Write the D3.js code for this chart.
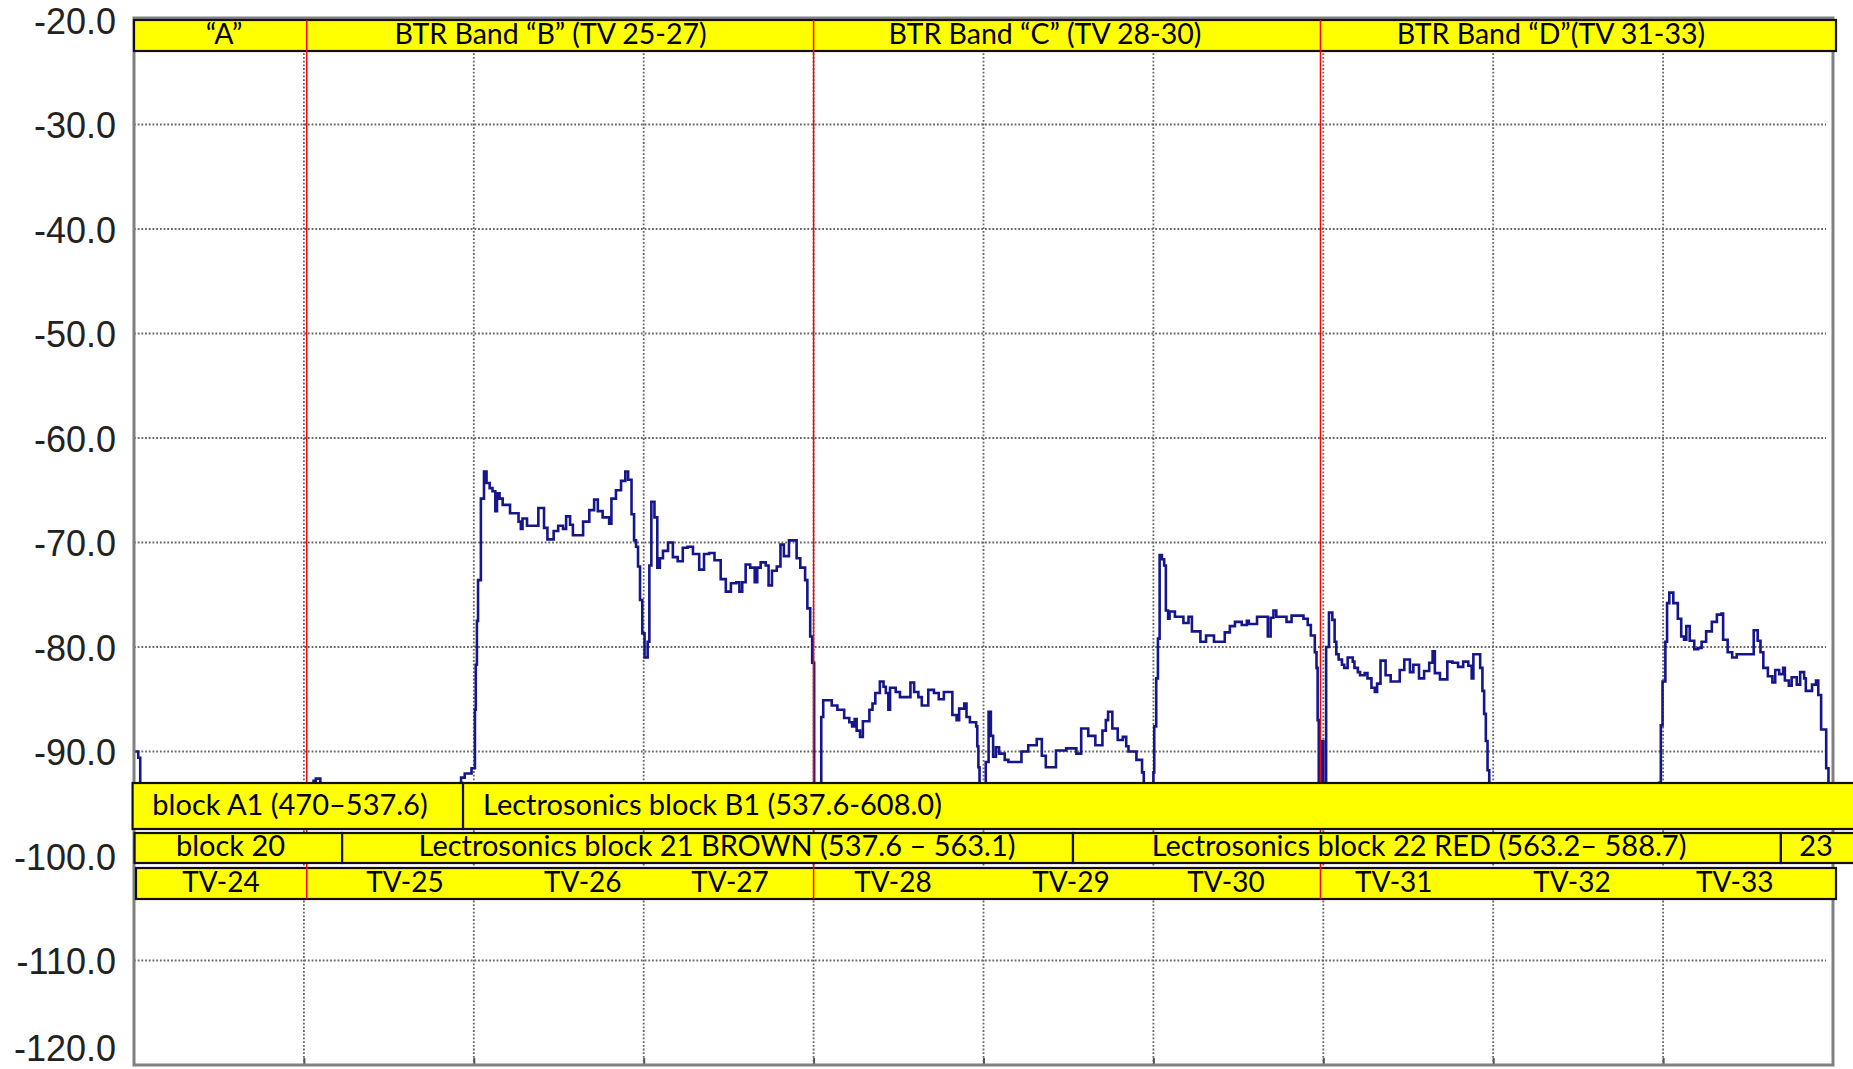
<!DOCTYPE html>
<html><head><meta charset="utf-8">
<script src="https://cdn.jsdelivr.net/npm/d3@7"></script>
<style>
html,body{margin:0;padding:0;background:#fff;overflow:hidden}
svg{display:block}
</style></head><body>
<svg id="chart" width="1853" height="1069"></svg>
<script>
// ---------------- data ----------------
const levelTicks = [-20,-30,-40,-50,-60,-70,-80,-90,-100,-110,-120];
const levelTickLabels = ["-20.0","-30.0","-40.0","-50.0","-60.0","-70.0","-80.0","-90.0","-100.0","-110.0","-120.0"];
const channelEdgesMHz = [536,542,548,554,560,566,572,578,584];
const bandEdgesMHz = [536.1,554.0,571.9];

const headerLabels = ["\u201CA\u201D","BTR Band \u201CB\u201D (TV 25-27)","BTR Band \u201CC\u201D (TV 28-30)","BTR Band \u201CD\u201D(TV 31-33)"];
const headerCentersMHz = [533.18,544.71,562.17,580.04];

const row1Labels = ["block A1 (470\u2013537.6)","Lectrosonics block B1 (537.6-608.0)"];
const row1StartMHz = [529.95,541.62];
const row1EndMHz = [541.62,591.5];
const row1CentersMHz = [535.51,550.43];

const row2Labels = ["block 20","Lectrosonics block 21 BROWN (537.6 \u2013 563.1)","Lectrosonics block 22 RED (563.2\u2013 588.7)","23"];
const row2StartMHz = [530.02,537.35,563.16,588.16];
const row2EndMHz = [537.35,563.16,588.16,591.5];
const row2CentersMHz = [533.41,550.59,575.38,589.40];

const tvLabels = ["TV-24","TV-25","TV-26","TV-27","TV-28","TV-29","TV-30","TV-31","TV-32","TV-33"];
const tvCentersMHz = [533.07,539.57,545.85,551.05,556.80,563.09,568.56,574.49,580.78,586.53];

const traceMHz = [
530.00,530.15,530.22,536.34,536.42,536.58,541.55,541.68,541.92,542.04,542.07,542.11,542.15,542.25,542.36,542.45,542.56,542.66,542.76,542.82,
542.91,543.02,543.28,543.58,543.66,543.72,543.88,544.28,544.48,544.60,544.82,544.98,545.15,545.26,545.40,545.50,545.86,546.08,546.25,546.38,
546.55,546.78,546.86,547.02,547.20,547.35,547.45,547.57,547.66,547.73,547.80,547.87,547.95,548.03,548.14,548.20,548.27,548.38,548.48,548.57,
548.68,548.86,549.03,549.20,549.38,549.55,549.74,549.96,550.13,550.31,550.50,550.72,550.90,551.08,551.27,551.38,551.48,551.60,551.76,551.92,
552.01,552.13,552.31,552.41,552.53,552.70,552.83,552.95,553.13,553.40,553.53,553.70,553.78,553.88,553.95,554.02,554.27,554.34,554.64,554.84,
555.08,555.26,555.36,555.45,555.52,555.64,555.74,555.97,556.08,556.18,556.34,556.47,556.55,556.64,556.70,556.90,557.05,557.42,557.55,557.70,
557.82,558.05,558.25,558.42,558.60,558.90,559.05,559.14,559.32,559.40,559.52,559.74,559.78,559.82,559.86,560.08,560.18,560.26,560.34,560.44,
560.55,560.75,560.88,561.34,561.58,561.88,562.06,562.20,562.56,562.92,563.28,563.45,563.70,563.95,564.20,564.32,564.40,564.55,564.74,564.92,
565.04,565.12,565.40,565.60,565.66,566.00,566.03,566.10,566.16,566.22,566.30,566.38,566.44,566.52,566.57,566.76,567.06,567.24,567.36,567.66,
567.86,568.14,568.52,568.70,568.88,569.12,569.30,569.37,569.66,570.04,570.14,570.24,570.34,570.70,570.88,571.30,571.45,571.56,571.70,571.76,
571.80,571.84,571.96,572.00,572.10,572.20,572.32,572.40,572.46,572.54,572.66,572.74,572.86,573.04,573.10,573.22,573.30,573.46,573.56,573.70,
573.82,573.90,574.02,574.20,574.38,574.70,574.86,575.06,575.18,575.38,575.56,575.74,575.86,575.94,576.12,576.38,576.56,576.76,576.94,577.12,
577.24,577.30,577.54,577.62,577.68,577.74,577.80,577.86,583.86,583.92,583.98,584.08,584.14,584.22,584.36,584.52,584.64,584.74,584.82,584.94,
585.10,585.24,585.36,585.52,585.72,585.90,586.06,586.12,586.28,586.44,586.60,587.20,587.34,587.44,587.54,587.70,587.86,587.96,588.10,588.24,
588.30,588.44,588.54,588.72,588.84,588.98,589.04,589.26,589.40,589.48,589.58,589.76,589.84,590.00];
const traceDbm = [
-90.0,-90.6,-97.0,-92.8,-92.6,-97.0,-92.5,-92.1,-91.6,-86.0,-81.7,-77.5,-73.6,-65.8,-63.2,-64.3,-64.8,-65.1,-67.0,-65.3,
-65.8,-66.4,-67.2,-68.0,-68.7,-67.7,-68.4,-66.7,-68.6,-69.7,-68.9,-68.4,-68.7,-67.5,-68.3,-69.3,-68.0,-66.9,-65.9,-67.0,
-67.6,-68.2,-65.8,-65.0,-64.1,-63.2,-64.0,-67.3,-69.8,-70.4,-72.3,-75.5,-78.7,-81.0,-79.5,-72.2,-66.1,-67.6,-72.4,-71.5,
-70.8,-70.0,-71.4,-71.8,-70.5,-70.4,-71.1,-72.6,-71.1,-71.0,-71.7,-73.5,-74.7,-73.9,-73.8,-74.7,-73.8,-72.1,-72.4,-73.8,
-72.4,-71.9,-72.2,-74.1,-72.7,-72.3,-70.2,-71.3,-69.8,-71.5,-72.4,-73.6,-76.3,-79.0,-81.5,-97.0,-86.7,-85.1,-85.6,-86.0,
-86.8,-87.2,-87.6,-86.9,-88.0,-88.6,-87.1,-86.0,-85.4,-84.4,-83.3,-83.8,-84.4,-86.0,-83.9,-84.3,-84.8,-83.4,-84.3,-84.8,
-85.6,-84.1,-84.4,-85.0,-84.3,-86.5,-87.0,-85.9,-85.4,-86.7,-87.2,-87.6,-89.5,-91.5,-97.0,-91.0,-86.2,-88.5,-90.5,-89.6,
-90.2,-90.8,-91.0,-90.0,-89.4,-88.8,-90.4,-91.5,-89.9,-89.7,-90.2,-87.8,-88.5,-89.4,-88.0,-87.0,-86.2,-87.8,-88.9,-88.6,
-89.5,-90.0,-90.8,-92.0,-97.0,-92.0,-87.6,-83.0,-79.2,-71.2,-71.6,-72.2,-76.5,-77.3,-76.6,-77.1,-77.7,-77.1,-78.5,-79.5,
-78.9,-79.5,-78.6,-78.0,-77.6,-77.9,-77.5,-77.8,-77.1,-79.0,-77.2,-76.5,-77.1,-77.6,-77.0,-77.3,-77.9,-78.9,-80.5,-82.0,
-87.0,-97.0,-89.0,-97.0,-80.0,-76.7,-77.4,-79.5,-80.7,-81.2,-81.7,-82.0,-81.0,-81.4,-82.0,-82.4,-82.7,-82.5,-83.0,-83.9,
-84.3,-83.5,-81.3,-82.7,-83.3,-82.2,-81.2,-82.4,-81.7,-83.0,-82.3,-81.5,-80.4,-82.5,-83.1,-81.4,-81.5,-81.9,-81.4,-81.8,
-83.0,-80.7,-82.0,-84.2,-86.4,-89.0,-91.8,-97.0,-93.0,-87.5,-83.3,-79.5,-75.8,-74.8,-75.8,-77.3,-79.0,-79.3,-78.0,-79.4,
-80.2,-80.1,-79.5,-78.5,-77.6,-76.9,-76.8,-79.3,-80.5,-81.0,-80.7,-78.4,-79.4,-80.5,-82.0,-82.8,-83.4,-82.2,-82.6,-82.0,
-83.2,-83.7,-82.9,-83.6,-82.4,-83.0,-84.2,-83.6,-83.2,-84.6,-87.9,-91.6,-97.0,-97.0];

// ---------------- layout ----------------
const W = 1853, H = 1069;
const plotLeft = 134, plotRight = 1833, plotTop = 20, plotBottom = 1065;
const svg = d3.select("#chart");
svg.append("rect").attr("width",W).attr("height",H).attr("fill","#fff");

const x = d3.scaleLinear().domain([530,590]).range([plotLeft,plotRight]);
const y = d3.scaleLinear().domain([-120,-20]).range([plotBottom,plotTop]);

const TXT = "Lato, 'Open Sans', sans-serif";

// grid
const grid = svg.append("g");
grid.selectAll("line.h").data(levelTicks.filter(d => d>-120 && d<-20)).join("line")
  .attr("x1",plotLeft).attr("x2",plotRight-7)
  .attr("y1",d=>y(d)).attr("y2",d=>y(d))
  .attr("stroke","#666").attr("stroke-width",1.8).attr("stroke-dasharray","1.8 1.9");
grid.selectAll("line.v").data(channelEdgesMHz).join("line")
  .attr("x1",d=>x(d)).attr("x2",d=>x(d))
  .attr("y1",plotTop).attr("y2",plotBottom)
  .attr("stroke","#666").attr("stroke-width",1.8).attr("stroke-dasharray","1.8 1.9");

// bottom axis ticks (inward)
const xAxis = d3.axisBottom(x).tickValues(channelEdgesMHz).tickSize(-7).tickFormat("");
const gx = svg.append("g").attr("transform",`translate(0,${plotBottom})`).call(xAxis);
gx.select(".domain").remove();
gx.selectAll(".tick line").attr("stroke","#555").attr("stroke-width",2);

// trace
svg.append("clipPath").attr("id","clip").append("rect")
  .attr("x",plotLeft).attr("y",plotTop).attr("width",plotRight-plotLeft).attr("height",plotBottom-plotTop);
const pts = traceMHz.map((f,i)=>[f,traceDbm[i]]);
const line = d3.line().x(d=>x(d[0])).y(d=>y(d[1])).curve(d3.curveStepAfter);
svg.append("path").datum(pts).attr("d",line).attr("clip-path","url(#clip)")
  .attr("fill","none").attr("stroke","#15158c").attr("stroke-width",2.6).attr("stroke-linejoin","miter");

// frame
svg.append("rect").attr("x",plotLeft).attr("y",plotTop-2).attr("width",plotRight-plotLeft).attr("height",plotBottom-plotTop+2)
  .attr("fill","none").attr("stroke","#808080").attr("stroke-width",3);

// y axis labels
const yAxis = d3.axisLeft(y).tickValues(levelTicks).tickFormat((d,i)=>levelTickLabels[i]).tickSize(0).tickPadding(18);
const gy = svg.append("g").attr("transform",`translate(${plotLeft},0)`).call(yAxis);
gy.select(".domain").remove();
gy.selectAll(".tick text")
  .attr("font-family","'Liberation Sans', Arial, sans-serif").attr("font-size",36).attr("fill","#222")
  .attr("dy",null).attr("y",d=>Math.min(13, (H-9)-y(d)));

// header band
svg.append("rect").attr("x",plotLeft).attr("y",20).attr("width",1836-plotLeft).attr("height",31)
  .attr("fill","#ffff00").attr("stroke","#111").attr("stroke-width",2.2);
// TV row
svg.append("rect").attr("x",136).attr("y",868).attr("width",1836-136).attr("height",31)
  .attr("fill","#ffff00").attr("stroke","#111").attr("stroke-width",2.2);

// red band boundaries
svg.selectAll("line.red").data(bandEdgesMHz).join("line")
  .attr("x1",d=>x(d)).attr("x2",d=>x(d)).attr("y1",20).attr("y2",899)
  .attr("stroke","#ff0000").attr("stroke-width",1.5);

// row 1 boxes
svg.selectAll("rect.r1").data(row1Labels).join("rect")
  .attr("x",(d,i)=>x(row1StartMHz[i])).attr("width",(d,i)=>x(row1EndMHz[i])-x(row1StartMHz[i]))
  .attr("y",783).attr("height",46)
  .attr("fill","#ffff00").attr("stroke","#111").attr("stroke-width",2.2);
// row 2 boxes
svg.selectAll("rect.r2").data(row2Labels).join("rect")
  .attr("x",(d,i)=>x(row2StartMHz[i])).attr("width",(d,i)=>x(row2EndMHz[i])-x(row2StartMHz[i]))
  .attr("y",833).attr("height",30)
  .attr("fill","#ffff00").attr("stroke","#111").attr("stroke-width",2.2);

function labels(arr, centers, baseline, size){
  svg.append("g").selectAll("text").data(arr).join("text")
    .attr("x",(d,i)=>x(centers[i])).attr("y",baseline)
    .attr("text-anchor","middle").attr("font-family",TXT).attr("font-size",size).attr("fill","#000")
    .text(d=>d);
}
labels(headerLabels, headerCentersMHz, 44, 28.5);
labels(row1Labels, row1CentersMHz, 815, 29);
labels(row2Labels, row2CentersMHz, 855.5, 29);
labels(tvLabels, tvCentersMHz, 892, 28);
</script>
</body></html>
